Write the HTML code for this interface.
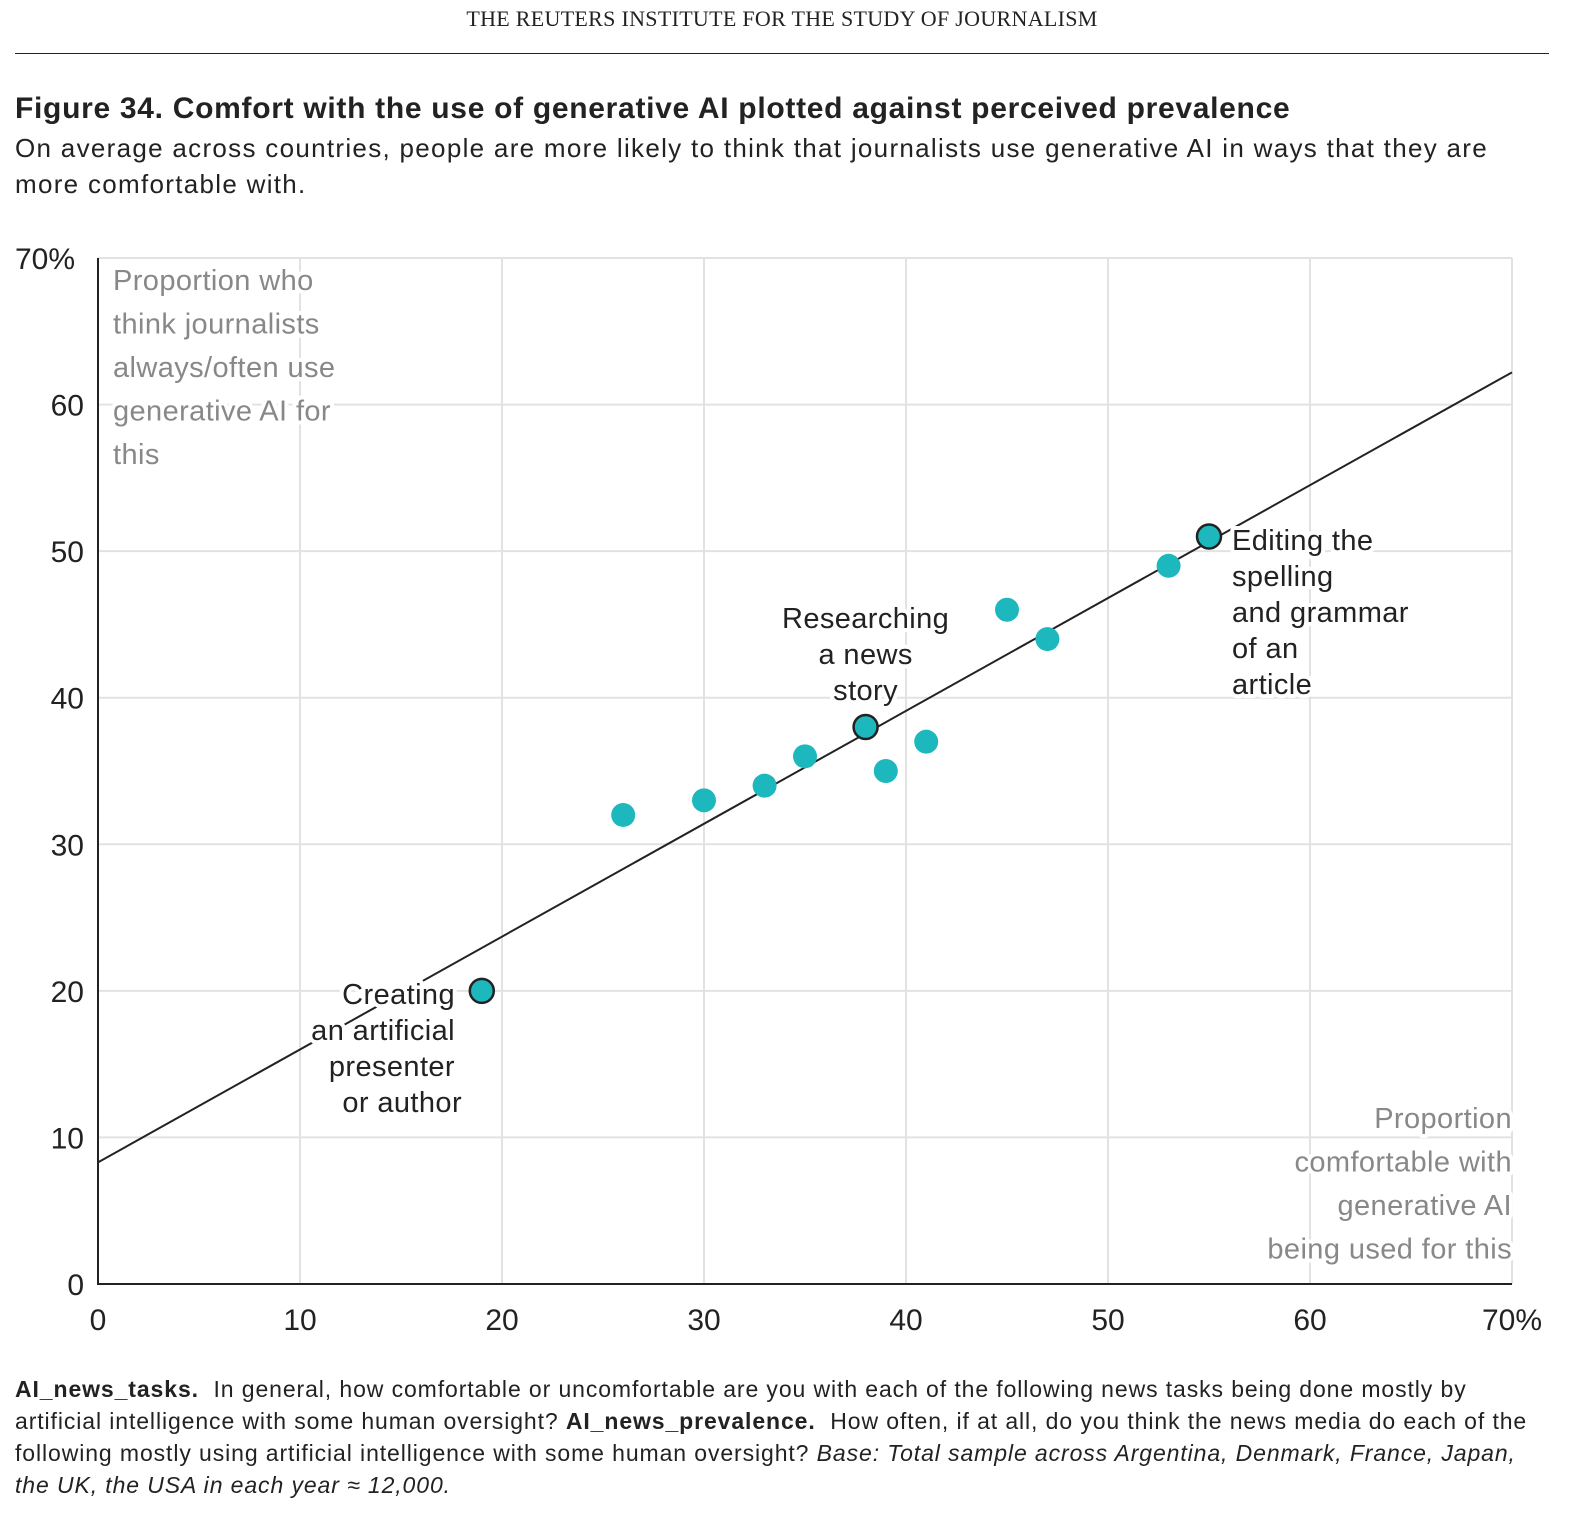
<!DOCTYPE html>
<html><head><meta charset="utf-8"><style>
body{margin:0;width:1592px;height:1532px;background:#fff;font-family:"Liberation Sans",sans-serif;color:#222;position:relative;overflow:hidden}
.abs{position:absolute}
</style></head><body>
<div class="abs" style="left:0;top:6px;width:1564px;text-align:center;font-family:'Liberation Serif',serif;font-size:22px;letter-spacing:0.3px">THE REUTERS INSTITUTE FOR THE STUDY OF JOURNALISM</div>
<div class="abs" style="left:15px;top:53px;width:1534px;height:1px;background:#222"></div>
<div class="abs" style="left:15px;top:92px;font-size:30px;font-weight:bold;letter-spacing:0.7px;white-space:nowrap">Figure 34. Comfort with the use of generative AI plotted against perceived prevalence</div>
<div class="abs" style="left:15px;top:130px;width:1545px;font-size:26px;letter-spacing:1.3px;line-height:36px">On average across countries, people are more likely to think that journalists use generative AI in ways that they are more comfortable with.</div>
<svg class="abs" style="left:0;top:0" width="1592" height="1532" id="chart"></svg>
<div class="abs" style="left:15px;top:1373px;width:1530px;font-size:23px;letter-spacing:0.9px;line-height:32px"><b>AI_news_tasks.</b>&nbsp; In general, how comfortable or uncomfortable are you with each of the following news tasks being done mostly by artificial intelligence with some human oversight? <b>AI_news_prevalence.</b>&nbsp; How often, if at all, do you think the news media do each of the following mostly using artificial intelligence with some human oversight? <i>Base: Total sample across Argentina, Denmark, France, Japan, the UK, the USA in each year ≈ 12,000.</i></div>
<script>
const xVals=[19,26,30,33,35,38,39,41,45,47,53,55];
const yVals=[20,32,33,34,36,38,35,37,46,44,49,51];
const highlighted=[true,false,false,false,false,true,false,false,false,false,false,true];
const xTicks=[0,10,20,30,40,50,60,70];
const yTicks=[0,10,20,30,40,50,60,70];
const trendStart=[0,8.3];
const trendEnd=[70,62.2];
const NS="http://www.w3.org/2000/svg";
const svg=document.getElementById('chart');
const X=v=>98+v*(1512-98)/70, Y=v=>1284-v*(1284-258)/70;
function el(t,a,p){const e=document.createElementNS(NS,t);for(const k in a)e.setAttribute(k,a[k]);(p||svg).appendChild(e);return e;}
xTicks.forEach(t=>{if(t>0){const g=el('line',{x1:X(t),x2:X(t),y1:258,y2:1284,stroke:'#e2e2e2','stroke-width':2});

}
const l=el('text',{x:X(t),y:1330,'text-anchor':'middle','font-size':30,fill:'#222'});l.textContent=t===70?'70%':t;

});
yTicks.forEach(t=>{if(t>0){const g=el('line',{x1:98,x2:1512,y1:Y(t),y2:Y(t),stroke:'#e2e2e2','stroke-width':2});

}
const l=el('text',{x:t===70?15:84,y:Y(t)+11,'text-anchor':t===70?'start':'end','font-size':30,fill:'#222'});l.textContent=t===70?'70%':t;

});
let a=el('line',{x1:98,x2:98,y1:258,y2:1285,stroke:'#222','stroke-width':2});

a=el('line',{x1:97,x2:1512,y1:1284,y2:1284,stroke:'#222','stroke-width':2});

const tl=el('line',{x1:X(trendStart[0]),y1:Y(trendStart[1]),x2:X(trendEnd[0]),y2:Y(trendEnd[1]),stroke:'#222','stroke-width':2});


function txt(lines,x,y,anchor,fill,name,lh){const t=el('text',{x:x,y:y,'text-anchor':anchor,'font-size':29,'letter-spacing':0.4,fill:fill,stroke:'#fff','stroke-width':8,'paint-order':'stroke','stroke-linejoin':'round'});


lines.forEach((s,i)=>{const sp=el('tspan',{x:x,dy:i?lh:0},t);sp.textContent=s;});}
txt(['Proportion who','think journalists','always/often use','generative AI for','this'],113,290,'start','#888','y-axis-title',43.5);
txt(['Proportion','comfortable with','generative AI','being used for this'],1512,1128,'end','#888','x-axis-title',43.5);
txt(['Creating'],455,1004,'end','#222','label-creating',36);
txt(['an artificial'],455,1040,'end','#222','label-creating-2',36);
txt(['presenter'],455,1076,'end','#222','label-creating-3',36);
txt(['or author'],462,1112,'end','#222','label-creating-4',36);
txt(['Researching','a news','story'],X(38),628,'middle','#222','label-researching',36);
txt(['Editing the','spelling','and grammar','of an','article'],1232,550,'start','#222','label-editing',36);
xVals.forEach((v,i)=>{const c=el('circle',{cx:X(v),cy:Y(yVals[i]),r:12,fill:'#1db8bd',stroke:highlighted[i]?'#222':'none','stroke-width':2.5});

});
</script>
</body></html>
